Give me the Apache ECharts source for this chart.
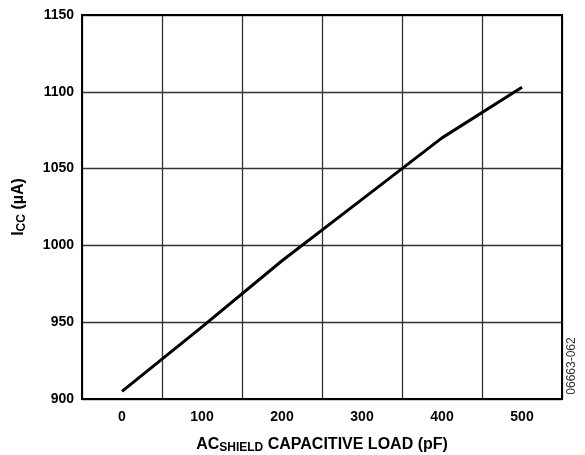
<!DOCTYPE html>
<html><head><meta charset="utf-8">
<script src="https://cdn.jsdelivr.net/npm/echarts@6/dist/echarts.min.js"></script>
<style>html,body{margin:0;padding:0;background:#fff}#c{width:585px;height:455px}</style>
</head><body><div id="c"></div>
<script>
const loadPF = [0, 100, 200, 300, 400, 500];
const iccUA = [905, 947, 990, 1030, 1070, 1103];
const xTicks = [0, 100, 200, 300, 400, 500];
const yTicks = [900, 950, 1000, 1050, 1100, 1150];

const chart = echarts.init(document.getElementById('c'));
const F = 'Liberation Sans, Arial, sans-serif';
chart.setOption({
  animation: false,
  grid: {left: 82, top: 15, right: 23, bottom: 56, outerBoundsMode: 'none', containLabel: false,
    show: true, borderColor: '#000', borderWidth: 2, backgroundColor: 'transparent', z: 5},
  xAxis: [{
    type: 'value', min: -50, max: 550, interval: 100,
    axisLine: {show: false}, axisTick: {show: false}, axisLabel: {show: false},
    splitLine: {show: true, lineStyle: {color: '#333', width: 1.3}}
  }, {
    type: 'value', min: -50, max: 550, interval: 50, position: 'bottom',
    axisLine: {show: false}, axisTick: {show: false}, splitLine: {show: false},
    axisLabel: {margin: 11, fontFamily: F, fontWeight: 'bold', fontSize: 14, color: '#000',
      formatter: v => xTicks.indexOf(v) >= 0 ? String(v) : ''},
    name: '{a|AC}{s|SHIELD}{a| CAPACITIVE LOAD (pF)}', nameLocation: 'middle', nameGap: 36,
    nameTextStyle: {rich: {
      a: {fontFamily: F, fontWeight: 'bold', fontSize: 16, color: '#000'},
      s: {fontFamily: F, fontWeight: 'bold', fontSize: 12, color: '#000', verticalAlign: 'bottom', padding: [7, 0, 0, 0]}
    }}
  }],
  yAxis: {
    type: 'value', min: 900, max: 1150, interval: 50,
    axisLine: {show: false}, axisTick: {show: false},
    splitLine: {show: true, lineStyle: {color: '#333', width: 1.3}},
    axisLabel: {margin: 8, fontFamily: F, fontWeight: 'bold', fontSize: 14, color: '#000',
      formatter: v => yTicks.indexOf(v) >= 0 ? String(v) : ''},
    name: '{a|I}{s|CC}{a| (µA)}', nameLocation: 'middle', nameGap: 54, nameRotate: 90,
    nameTextStyle: {rich: {
      a: {fontFamily: F, fontWeight: 'bold', fontSize: 16, color: '#000'},
      s: {fontFamily: F, fontWeight: 'bold', fontSize: 12, color: '#000', verticalAlign: 'bottom', padding: [7, 0, 0, 0]}
    }}
  },
  series: [{
    type: 'line', xAxisIndex: 0, data: loadPF.map((x, i) => [x, iccUA[i]]),
    symbol: 'none', lineStyle: {color: '#000', width: 3}, z: 10
  }],
  graphic: [{
    type: 'text', x: 572, y: 366, rotation: Math.PI / 2,
    style: {text: '06663-062', fontFamily: F, fontSize: 12, fill: '#333', textAlign: 'center', textVerticalAlign: 'middle'}
  }]
});
</script></body></html>
